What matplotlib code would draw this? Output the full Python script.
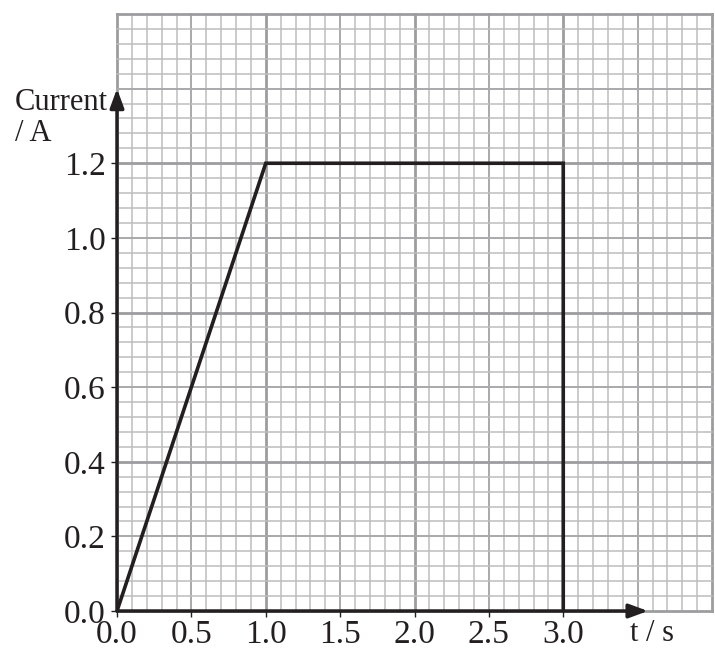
import numpy as np
import matplotlib
matplotlib.use('Agg')
import matplotlib.pyplot as plt

# current vs time data
t_vals = [0.0, 1.0, 3.0, 3.0]
current_vals = [0.0, 1.2, 1.2, 0.0]

x_ticks = [0.0, 0.5, 1.0, 1.5, 2.0, 2.5, 3.0]
y_ticks = [0.0, 0.2, 0.4, 0.6, 0.8, 1.0, 1.2]
x_max, y_max = 4.0, 1.6

INK = '#231f20'
plt.rcParams['font.family'] = ['Liberation Serif', 'DejaVu Serif']

fig = plt.figure(figsize=(7.15, 6.53), dpi=100)
ax = fig.add_axes([117 / 715, 1 - 611 / 653, 595 / 715, 597 / 653])
ax.set_xlim(0, x_max)
ax.set_ylim(0, y_max)
for s in ax.spines.values():
    s.set_visible(False)

# graph paper: minor / mid / major lines
def paper_style(k):
    if k % 10 == 0:
        return '#9d9d9f', 2.0
    if k % 5 == 0:
        return '#a9a9ab', 1.4
    return '#bdbdbf', 1.1

for i in range(0, 41):
    c, w = paper_style(i)
    ax.axvline(i * 0.1, color=c, lw=w, zorder=1, clip_on=False)
for j in range(0, 41):
    c, w = paper_style(j)
    ax.axhline(j * 0.04, color=c, lw=w, zorder=1, clip_on=False)

# axes with arrows
arrow = dict(arrowstyle='-|>,head_length=0.6,head_width=0.22', lw=2.5, color=INK,
             mutation_scale=19, shrinkA=0, shrinkB=0)
ax.annotate('', xy=(0, 1.4), xytext=(0, 0), arrowprops=arrow,
            annotation_clip=False, zorder=4)
ax.annotate('', xy=(3.57, 0), xytext=(0, 0), arrowprops=arrow,
            annotation_clip=False, zorder=4)

ax.plot(t_vals, current_vals, color=INK, lw=2.6, zorder=5, solid_joinstyle='miter')

ax.set_xticks(x_ticks)
ax.set_xticklabels([f'{v:.1f}' for v in x_ticks])
ax.set_yticks(y_ticks)
ax.set_yticklabels([f'{v:.1f}' for v in y_ticks])
ax.tick_params(axis='both', direction='out', length=4, width=1, color=INK,
               labelsize=24, labelcolor=INK)
ax.tick_params(axis='x', pad=2)
ax.tick_params(axis='y', pad=4)

fig.text(15 / 715, 1 - 110 / 653, 'Current', fontsize=22, color=INK, va='baseline')
fig.text(15 / 715, 1 - 141 / 653, '/ A', fontsize=22, color=INK, va='baseline')
fig.text(630 / 715, 1 - 641 / 653, 't / s', fontsize=22, color=INK, va='baseline')

fig.savefig('out.png', dpi=100)
